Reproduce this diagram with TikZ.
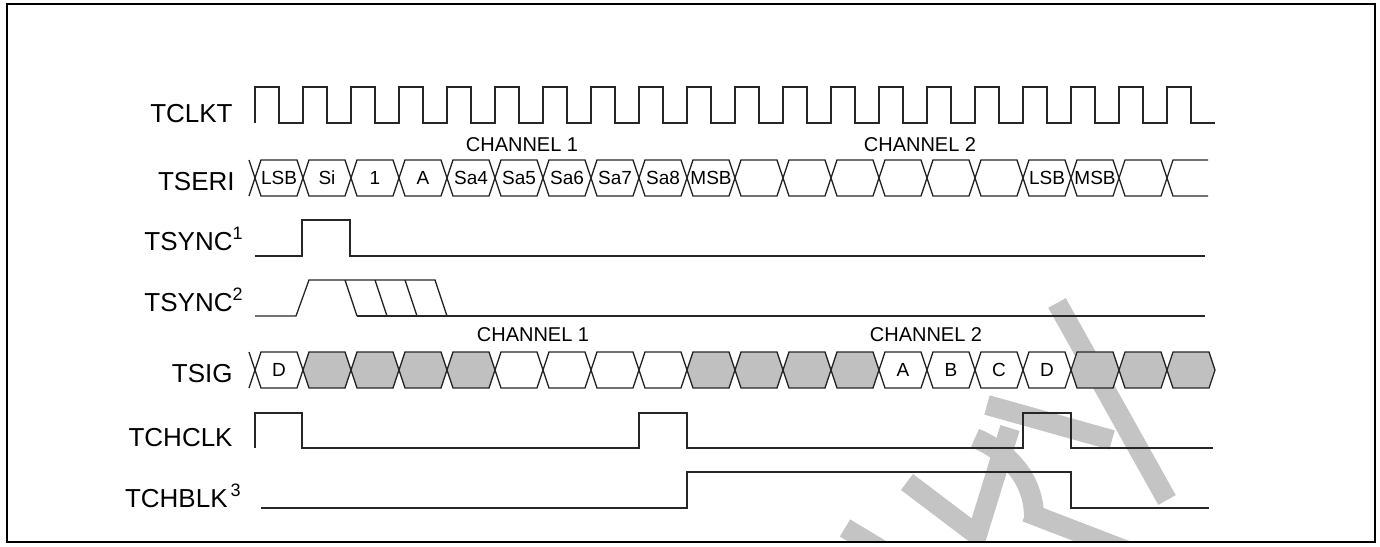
\documentclass[tikz,border=0pt]{standalone}
\usepackage{fontspec}
\setmainfont{Liberation Sans}
\usetikzlibrary{positioning}
\definecolor{cellgray}{HTML}{C0C0C0}
\definecolor{wmgray}{HTML}{C4C4C4}
\newcommand{\supnum}[1]{\rlap{\raisebox{0.42em}{\fontsize{9}{9}\selectfont #1}}}

\begin{document}
\begin{tikzpicture}[
        x=0.5pt, y=-0.5pt,
        wave/.style={draw=black!85, line width=0.65pt, line join=miter},
        cell/.style={wave, fill=white},
        wmark/.style={draw=wmgray, line width=10pt},
        signame/.style={anchor=base east, inner sep=0pt, font=\fontsize{13}{15}\selectfont},
        celltext/.style={inner sep=0pt, font=\fontsize{9.5}{11}\selectfont},
        chan/.style={inner sep=0pt, font=\fontsize{10}{12}\selectfont}
    ]
        \useasboundingbox (0,0) rectangle (1380,546);

        % watermark behind the waves
        \begin{scope}
            \clip (8,5) rectangle (1374,541);
            \draw[wmark] (1057,303) -- (1167,500);
            \draw[wmark] (987,405) -- (1112,440);
            \draw[wmark] (975,438) .. controls (1015,455) and (1035,485) .. (1034,520);
            \draw[wmark] (1026,512) -- (1130,552);
            \draw[wmark] (907,482) -- (977,535) -- (1010,428);
            \draw[wmark] (845,528) -- (885,552);
        \end{scope}
        \draw[line width=1pt] (7,4) rectangle (1375,542);

        % signal names
        \node [signame] (tclkt) at (233,122) {TCLKT};
        \node [signame] (tseri) at (235,190) {TSERI};
        \node [signame] (tsynca) at (233,250) {TSYNC\supnum{1}};
        \node [signame] (tsyncb) at (233,311) {TSYNC\supnum{2}};
        \node [signame] (tsig) at (233,382) {TSIG};
        \node [signame] (tchclk) at (233,446) {TCHCLK};
        \node [signame] (tchblk) at (228,507) {TCHBLK\supnum{\,3}};

        % TCLKT
        \draw[wave] (255,123) \foreach \k in {0,...,19} { -- ++(0,-36) -- ++(24,0) -- ++(0,36) -- ++(24,0) };

        % TSERI
        \node [chan] (serich1) at (522,145) {CHANNEL 1};
        \node [chan] (serich2) at (920,145) {CHANNEL 2};
        \draw[wave] (249,160) -- (255,178) -- (249,196);
        \foreach \k/\txt in {0/LSB, 1/Si, 2/1, 3/A, 4/Sa4, 5/Sa5, 6/Sa6, 7/Sa7, 8/Sa8, 9/MSB,
                10/{}, 11/{}, 12/{}, 13/{}, 14/{}, 15/{}, 16/LSB, 17/MSB, 18/{}} {
            \draw[cell] ({255+48*\k},178) -- ++(6,-18) -- ++(36,0) -- ++(6,18) -- ++(-6,18) -- ++(-36,0) -- cycle;
            \node [celltext] (seri\k) at ({279+48*\k},178) {\txt};
        }
        \draw[wave] (1208,160) -- (1173,160) -- (1167,178) -- (1173,196) -- (1208,196);

        % TSYNC
        \draw[wave] (255,256) -- (302,256) -- (302,220) -- (350,220) -- (350,256) -- (1205,256);
        \draw[wave] (255,316) -- (296,316) -- (309,280) -- (435,280) -- (447,316);
        \draw[wave] (357,316) -- (1205,316);
        \foreach \x in {345,375,405}
            \draw[wave] (\x,280) -- ++(12,36);

        % TSIG
        \node [chan] (sigch1) at (533,335) {CHANNEL 1};
        \node [chan] (sigch2) at (926,335) {CHANNEL 2};
        \draw[wave] (249,352) -- (255,370) -- (249,388);
        \foreach \k/\f/\txt in {0/white/D, 1/cellgray/{}, 2/cellgray/{}, 3/cellgray/{}, 4/cellgray/{},
                5/white/{}, 6/white/{}, 7/white/{}, 8/white/{}, 9/cellgray/{}, 10/cellgray/{},
                11/cellgray/{}, 12/cellgray/{}, 13/white/A, 14/white/B, 15/white/C, 16/white/D,
                17/cellgray/{}, 18/cellgray/{}, 19/cellgray/{}} {
            \draw[cell, fill=\f] ({255+48*\k},370) -- ++(6,-18) -- ++(36,0) -- ++(6,18) -- ++(-6,18) -- ++(-36,0) -- cycle;
            \node [celltext] (sig\k) at ({279+48*\k},370) {\txt};
        }

        % TCHCLK and TCHBLK
        \draw[wave] (255,448) -- (255,413) -- (302,413) -- (302,448) -- (639,448) -- (639,413) -- (687,413) -- (687,448)
            -- (1023,448) -- (1023,413) -- (1071,413) -- (1071,448) -- (1213,448);
        \draw[wave] (261,508) -- (687,508) -- (687,472) -- (1071,472) -- (1071,508) -- (1209,508);
    \end{tikzpicture}
\end{document}
